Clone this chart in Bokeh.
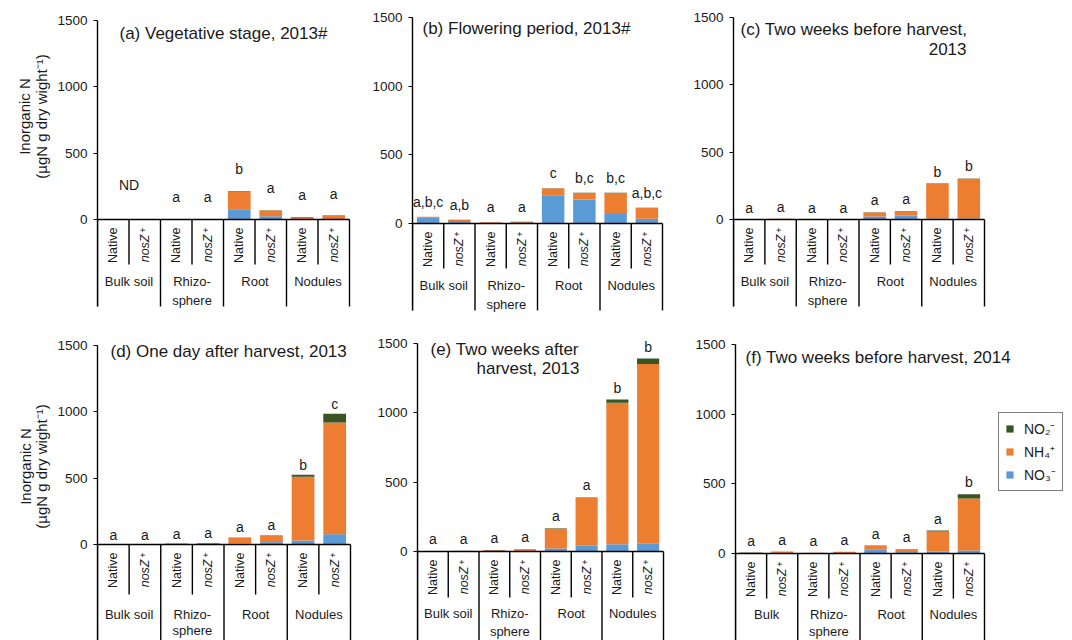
import math
from bokeh.plotting import figure
from bokeh.layouts import column, row
from bokeh.models import (Range1d, Legend, LegendItem, FixedTicker,
                          ColumnDataSource)
from bokeh.core.properties import value
from bokeh.embed import file_html
from bokeh.resources import INLINE

# ---- data: inorganic N (µgN g dry weight^-1), stacked NO3- / NH4+ / NO2-
# bar order: Bulk soil (Native, nosZ+), Rhizosphere (Native, nosZ+),
#            Root (Native, nosZ+), Nodules (Native, nosZ+)
no3_a = [0, 0, 0, 0, 78, 25, 2, 3]
nh4_a = [0, 0, 1, 1, 133, 43, 13, 24]
no2_a = [0, 0, 0, 0, 3, 2, 3, 3]
sig_a = ["", "", "a", "a", "b", "a", "a", "a"]

no3_b = [45, 18, 4, 2, 206, 175, 70, 34]
nh4_b = [4, 8, 5, 8, 48, 46, 150, 78]
no2_b = [1, 1, 1, 2, 3, 2, 3, 2]
sig_b = ["a,b,c", "a,b", "a", "a", "c", "b,c", "b,c", "a,b,c"]

no3_c = [0, 1, 0, 0, 22, 30, 8, 8]
nh4_c = [0, 4, 0, 0, 30, 32, 256, 294]
no2_c = [0, 0, 0, 0, 2, 2, 3, 3]
sig_c = ["a", "a", "a", "a", "a", "a", "b", "b"]

no3_d = [0, 0, 2, 3, 8, 18, 30, 78]
nh4_d = [0, 0, 4, 8, 43, 50, 480, 842]
no2_d = [0, 0, 1, 1, 2, 2, 15, 65]
sig_d = ["a", "a", "a", "a", "a", "a", "b", "c"]

no3_e = [1, 1, 3, 3, 22, 41, 52, 56]
nh4_e = [3, 4, 6, 13, 143, 348, 1020, 1297]
no2_e = [0, 0, 1, 1, 3, 3, 24, 38]
sig_e = ["a", "a", "a", "a", "a", "a", "b", "b"]

no3_f = [1, 4, 1, 2, 30, 10, 15, 22]
nh4_f = [5, 9, 4, 9, 24, 19, 143, 373]
no2_f = [1, 1, 0, 1, 3, 2, 7, 31]
sig_f = ["a", "a", "a", "a", "a", "a", "a", "b"]

strains = ["Native", "nosZ", "Native", "nosZ", "Native", "nosZ", "Native", "nosZ"]
groups = [["Bulk soil"], ["Rhizo-", "sphere"], ["Root"], ["Nodules"]]
groups_f = [["Bulk"], ["Rhizo-", "sphere"], ["Root"], ["Nodules"]]
y_ticks = [0, 500, 1000, 1500]
y_max = 1500
y_title = ["Inorganic N", "(\u00b5gN g dry wight\u207b\u00b9)"]

C_NO3, C_NH4, C_NO2 = "#5B9BD5", "#ED7D31", "#375623"
FONT = "Liberation Sans"
INK = "#1a1a1a"
H = 320
LAB_W = 52


def ylabel_strip(cy, xs_px):
    """Narrow canvas holding the two-line vertical y-axis title."""
    s = figure(width=LAB_W, height=H, x_range=Range1d(0, LAB_W),
               y_range=Range1d(H, 0), min_border=0, toolbar_location=None,
               output_backend="svg", outline_line_color=None)
    s.axis.visible = False
    s.grid.visible = False
    s.text(x=xs_px, y=[cy] * len(xs_px), text=y_title, angle=math.pi / 2,
           text_align="center", text_baseline="middle",
           text_font=value(FONT), text_font_size="15px", text_color=INK)
    return s


def panel(fig_w, left, right, zero, top, no3, nh4, no2, sig, grp,
          titles, sig_pad, table=(45, 62, 81, 87), full_rule=False,
          nd=None):
    n = len(no3)
    kx = n / (right - left)          # data units per pixel (x)
    ky = y_max / (zero - top)        # data units per pixel (y)

    def X(px):
        return (px - left) * kx

    def Y(py):
        return (zero - py) * ky

    y_lo = Y(H)
    p = figure(width=fig_w, height=H,
               x_range=Range1d(0, X(fig_w)), y_range=Range1d(y_lo, Y(0)),
               min_border_left=left, min_border_right=0,
               min_border_top=0, min_border_bottom=0,
               toolbar_location=None, output_backend="svg",
               outline_line_color=None)
    p.xaxis.visible = False
    p.xgrid.visible = False
    p.ygrid.visible = False

    short_px, grp_px, sph_px, long_px = table
    bottom = y_lo if full_rule else -long_px * ky

    ax = p.yaxis[0]
    ax.ticker = FixedTicker(ticks=y_ticks)
    ax.bounds = (bottom, y_max)
    ax.axis_line_color = "black"
    ax.axis_line_width = 1.4
    ax.major_tick_line_color = "black"
    ax.major_tick_in = 0
    ax.major_tick_out = 4
    ax.minor_tick_line_color = None
    ax.major_label_standoff = 6
    ax.major_label_text_font = FONT
    ax.major_label_text_font_size = "13.5px"
    ax.major_label_text_color = INK

    xs = [i + 0.5 for i in range(n)]
    src = ColumnDataSource(dict(x=xs, no3=no3, nh4=nh4, no2=no2))
    rs = p.vbar_stack(["no3", "nh4", "no2"], x="x", width=0.72,
                      color=[C_NO3, C_NH4, C_NO2], line_color=None,
                      source=src)

    # baseline and category table
    p.segment(x0=[0], y0=[0], x1=[n], y1=[0], line_color="black",
              line_width=1.4)
    sep_x = list(range(n + 1))
    sep_y1 = [bottom if i % 2 == 0 else -short_px * ky for i in sep_x]
    p.segment(x0=sep_x, y0=[0] * len(sep_x), x1=sep_x, y1=sep_y1,
              line_color="black", line_width=1.4)

    top_y = -8 * ky
    nat_x = [xs[i] for i in range(n) if strains[i] == "Native"]
    p.text(x=nat_x, y=[top_y] * len(nat_x), text=["Native"] * len(nat_x),
           angle=math.pi / 2, text_align="right", text_baseline="middle",
           text_font=value(FONT), text_font_size="12.5px", text_color=INK)
    nz_x = [xs[i] for i in range(n) if strains[i] == "nosZ"]
    p.text(x=nz_x, y=[top_y - 7 * ky] * len(nz_x), text=["nosZ"] * len(nz_x),
           angle=math.pi / 2, text_align="right", text_baseline="middle",
           text_font=value(FONT), text_font_style="italic",
           text_font_size="12.5px", text_color=INK)
    p.text(x=[v - 2 * kx for v in nz_x], y=[top_y] * len(nz_x),
           text=["+"] * len(nz_x), angle=math.pi / 2, text_align="right",
           text_baseline="middle", text_font=value(FONT),
           text_font_size="9px", text_color=INK)

    gx, gy, gt = [], [], []
    for g, lines in enumerate(grp):
        for j, t in enumerate(lines):
            gx.append(2 * g + 1)
            gy.append(-(grp_px if j == 0 else sph_px) * ky)
            gt.append(t)
    p.text(x=gx, y=gy, text=gt, text_align="center", text_baseline="middle",
           text_font=value(FONT), text_font_size="13px", text_color=INK)

    # significance letters above each bar
    tot = [a + b + c for a, b, c in zip(no3, nh4, no2)]
    lx = [xs[i] for i in range(n) if sig[i]]
    ly = [tot[i] + sig_pad * ky for i in range(n) if sig[i]]
    lt = [s for s in sig if s]
    p.text(x=lx, y=ly, text=lt, text_align="center", text_baseline="middle",
           text_font=value(FONT), text_font_size="14px", text_color=INK)
    if nd is not None:
        p.text(x=[nd], y=[35 * ky], text=["ND"], text_align="center",
               text_baseline="middle", text_font=value(FONT),
               text_font_size="14px", text_color=INK)

    for (tx, ty, t, align) in titles:
        p.text(x=[X(tx)], y=[Y(ty)], text=[t], text_align=align,
               text_baseline="middle", text_font=value(FONT),
               text_font_size="17px", text_color=INK)
    return p, rs


la = ylabel_strip(116, [24, 41])
pa, _ = panel(368 - LAB_W, 97 - LAB_W, 349 - LAB_W, 219, 20,
              no3_a, nh4_a, no2_a, sig_a, groups,
              [(119 - LAB_W, 33, "(a) Vegetative stage, 2013#", "left")], 22,
              nd=1.0)
pb, _ = panel(320, 44, 294, 223, 17, no3_b, nh4_b, no2_b, sig_b, groups,
              [(54, 28, "(b) Flowering period, 2013#", "left")], 15)
pc, _ = panel(384, 45, 296, 219, 17, no3_c, nh4_c, no2_c, sig_c, groups,
              [(52, 29, "(c) Two weeks before harvest,", "left"),
               (278, 48, "2013", "right")], 12)

ld = ylabel_strip(146, [25, 41])
pd, _ = panel(368 - LAB_W, 97 - LAB_W, 350 - LAB_W, 224, 25,
              no3_d, nh4_d, no2_d, sig_d, groups,
              [(110 - LAB_W, 31, "(d) One day after harvest, 2013", "left")],
              10, table=(50, 70, 86, 96), full_rule=True)
pe, _ = panel(320, 49, 295, 231, 23, no3_e, nh4_e, no2_e, sig_e, groups,
              [(62, 29, "(e) Two weeks after", "left"),
               (211, 48, "harvest, 2013", "right")], 12,
              table=(46, 62, 80, 96), full_rule=True)
pf, rf = panel(384, 47, 296, 233, 24, no3_f, nh4_f, no2_f, sig_f, groups_f,
               [(57, 37, "(f) Two weeks before harvest, 2014", "left")], 12,
               table=(45, 61, 78, 96), full_rule=True)

legend = Legend(items=[LegendItem(label="NO\u2082\u207b", renderers=[rf[2]]),
                       LegendItem(label="NH\u2084\u207a", renderers=[rf[1]]),
                       LegendItem(label="NO\u2083\u207b", renderers=[rf[0]])],
                location=(263, 149), border_line_color="black",
                border_line_width=1, background_fill_alpha=1,
                label_text_font=FONT, label_text_font_size="14px",
                label_text_color=INK, glyph_width=9, glyph_height=9,
                label_height=18, spacing=4, padding=6, margin=0,
                label_standoff=10)
pf.add_layout(legend)

layout = column(row(la, pa, pb, pc), row(ld, pd, pe, pf))
open("out.html", "w").write(file_html(layout, INLINE))
